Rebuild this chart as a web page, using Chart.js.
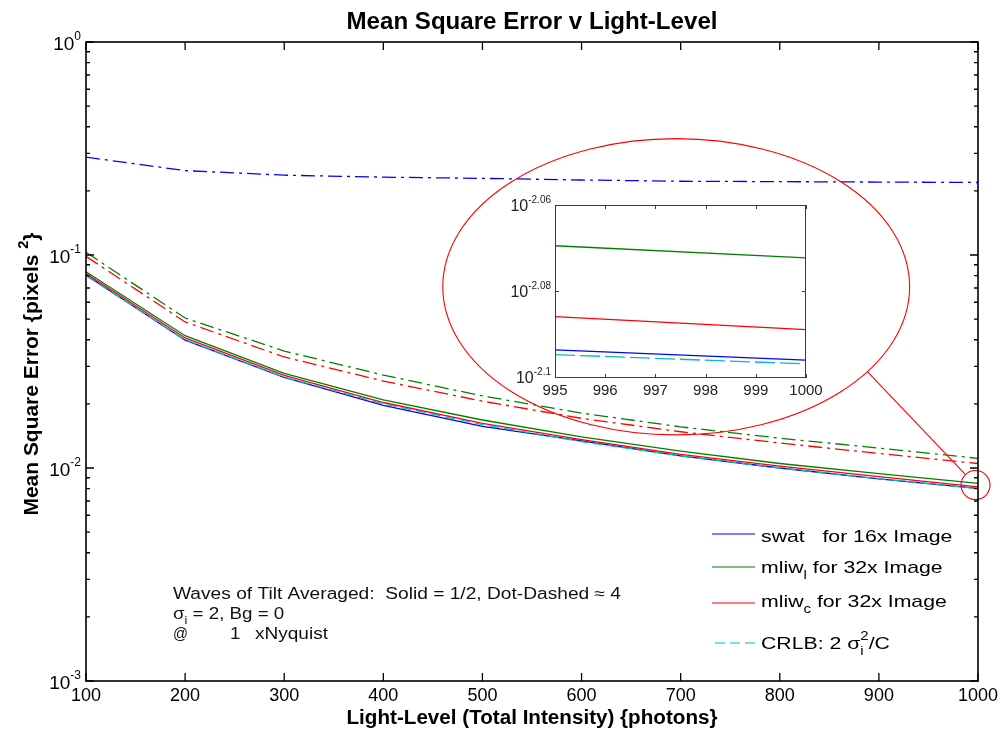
<!DOCTYPE html>
<html>
<head>
<meta charset="utf-8">
<title>Mean Square Error v Light-Level</title>
<script src="https://cdn.jsdelivr.net/npm/chart.js@4.4.1/dist/chart.umd.min.js"></script>
<style>
  html, body { margin: 0; padding: 0; background: #fff; }
  #wrap { position: relative; width: 1007px; height: 736px; }
  #main { position: absolute; left: 0; top: 0; }
  #inset { position: absolute; left: 480px; top: 180px; }
</style>
</head>
<body>
<div id="wrap">
  <canvas id="main" width="1007" height="736"></canvas>
  <canvas id="inset" width="350" height="230"></canvas>
</div>
<script>
const FONT = '"Liberation Sans", Arial, Helvetica, sans-serif';

// light level (total intensity, photons)
const lightLevel = [100, 200, 300, 400, 500, 600, 700, 800, 900, 1000];

// solid: waves of tilt averaged = 1/2
const swatHalf  = [0.0805, 0.0398, 0.0266, 0.0197, 0.0157, 0.0134, 0.0114, 0.0100, 0.0089, 0.00802];
const mliwLHalf = [0.0835, 0.0418, 0.0278, 0.0209, 0.0168, 0.0140, 0.0120, 0.0105, 0.0094, 0.00847];
const mliwCHalf = [0.0818, 0.0408, 0.0272, 0.0203, 0.0162, 0.0136, 0.0116, 0.0102, 0.0091, 0.00815];

// dot-dashed: waves of tilt averaged ~ 4
const swatFour  = [0.288, 0.249, 0.237, 0.232, 0.229, 0.225, 0.222, 0.221, 0.220, 0.219];
const mliwLFour = [0.103, 0.0506, 0.0354, 0.0273, 0.0218, 0.0181, 0.0156, 0.0138, 0.0124, 0.0111];
const mliwCFour = [0.0985, 0.0485, 0.0332, 0.0256, 0.0206, 0.0171, 0.0148, 0.0131, 0.0117, 0.0105];

// CRLB: 2 sigma^2 / C
const crlb = [0.08, 0.04, 0.0267, 0.02, 0.016, 0.0133, 0.0114, 0.01, 0.0089, 0.008];

// close-up near 1000 photons
const zoomLevel = [995, 1000];
const zoomSwat  = [0.008060, 0.008016];
const zoomMliwL = [0.008522, 0.008467];
const zoomMliwC = [0.008205, 0.008148];
const zoomCrlb  = [0.008040, 0.008000];

// ticks
const xTicks = [100, 200, 300, 400, 500, 600, 700, 800, 900, 1000];
const yDecades = [1, 0.1, 0.01, 0.001];
const yDecadeExp = ['0', '-1', '-2', '-3'];
const yMinorMant = [2, 3, 4, 5, 6, 7, 8, 9];
const zoomXTicks = [995, 996, 997, 998, 999, 1000];
const zoomYExp = [-2.06, -2.08, -2.1];
const zoomYLabels = ['-2.06', '-2.08', '-2.1'];

const BLUE = '#0000ff', GREEN = '#008000', RED = '#ff0000', CYAN = '#00bfbf';
const DASH_DOT = [14, 5, 3, 5];
const DASHED = [10, 5];

function series(xs, ys) {
  return xs.map((x, i) => ({ x: x, y: ys[i] }));
}

function line(label, xs, ys, color, dash) {
  return {
    label: label,
    data: series(xs, ys),
    borderColor: color,
    borderDash: dash,
    borderWidth: 1.3,
    pointRadius: 0,
    fill: false,
    tension: 0
  };
}

// text with sub/superscripts; parts are strings or {t, sub, sup, keep}
function drawRich(ctx, parts, x, y, o) {
  const size = o.size, w8 = o.bold ? 'bold ' : '';
  const items = parts.map(p => (typeof p === 'string' ? { t: p } : Object.assign({}, p)));
  let total = 0;
  for (const it of items) {
    it.fs = it.sup || it.sub ? Math.round(size * (o.scriptScale || 0.68)) : size;
    ctx.font = w8 + it.fs + 'px ' + FONT;
    it.w = ctx.measureText(it.t).width;
    if (!it.keep) total += it.w;
  }
  const sx = o.width ? o.width / total : (o.sx || 1);
  const shift = o.align === 'center' ? total / 2 : o.align === 'right' ? total : 0;
  ctx.save();
  ctx.translate(x, y);
  if (o.rotate) ctx.rotate(o.rotate);
  ctx.scale(sx, 1);
  ctx.fillStyle = o.color || '#000';
  ctx.textAlign = 'left';
  ctx.textBaseline = 'alphabetic';
  let cx = -shift;
  for (const it of items) {
    ctx.font = w8 + it.fs + 'px ' + FONT;
    const dy = it.sup ? -size * 0.52 : it.sub ? size * 0.33 : 0;
    ctx.fillText(it.t, cx, dy);
    if (!it.keep) cx += it.w;
  }
  ctx.restore();
  return total * sx;
}

const hiddenAxis = {
  grid: { display: false },
  border: { display: false },
  ticks: { display: false },
  title: { display: false }
};

// ellipse around the close-up, in data units, and the spot it magnifies
const OVAL = { xMin: 460, xMax: 931, yMin: 0.0143, yMax: 0.352 };
const SPOT = { x: 997.5, y: Math.pow(10, -2.08), r: 14.5 };

const legendRows = [
  { color: BLUE, dash: [], lineY: 534, baseY: 542, parts: ['swat   for 16x Image'] },
  { color: GREEN, dash: [], lineY: 567, baseY: 573, parts: ['mliw', { t: 'l', sub: true }, ' for 32x Image'] },
  { color: RED, dash: [], lineY: 603, baseY: 607, parts: ['mliw', { t: 'c', sub: true }, ' for 32x Image'] },
  { color: CYAN, dash: DASHED, lineY: 643, baseY: 649,
    parts: ['CRLB: 2 \u03c3', { t: 'i', sub: true, keep: true }, { t: '2', sup: true }, '/C'] }
];

const mainFrame = {
  id: 'mainFrame',
  beforeDraw(chart) {
    const ctx = chart.ctx;
    ctx.save();
    ctx.fillStyle = '#fff';
    ctx.fillRect(0, 0, chart.width, chart.height);
    ctx.restore();
  },
  afterDatasetsDraw(chart) {
    const { ctx, scales: { x, y } } = chart;
    const xa = x.getPixelForValue(OVAL.xMin), xb = x.getPixelForValue(OVAL.xMax);
    const ya = y.getPixelForValue(OVAL.yMax), yb = y.getPixelForValue(OVAL.yMin);
    const cx = (xa + xb) / 2, cy = (ya + yb) / 2, rx = (xb - xa) / 2, ry = (yb - ya) / 2;
    const sx = x.getPixelForValue(SPOT.x), sy = y.getPixelForValue(SPOT.y);
    ctx.save();
    ctx.strokeStyle = RED;
    ctx.lineWidth = 1.1;
    ctx.beginPath();
    ctx.ellipse(cx, cy, rx, ry, 0, 0, Math.PI * 2);
    ctx.stroke();
    ctx.beginPath();
    ctx.arc(sx, sy, SPOT.r, 0, Math.PI * 2);
    ctx.stroke();
    // connector from the ellipse down to the spot
    const th = 35 * Math.PI / 180;
    const px = cx + rx * Math.cos(th), py = cy + ry * Math.sin(th);
    const d = Math.hypot(px - sx, py - sy);
    ctx.beginPath();
    ctx.moveTo(px, py);
    ctx.lineTo(sx + (px - sx) / d * SPOT.r, sy + (py - sy) / d * SPOT.r);
    ctx.stroke();
    ctx.restore();
  },
  afterDraw(chart) {
    const { ctx, chartArea: a, scales: { x, y } } = chart;
    ctx.save();
    ctx.strokeStyle = '#000';
    ctx.lineWidth = 1.6;
    ctx.strokeRect(a.left, a.top, a.right - a.left, a.bottom - a.top);

    ctx.lineWidth = 1.3;
    ctx.beginPath();
    xTicks.forEach(v => {
      const px = x.getPixelForValue(v);
      ctx.moveTo(px, a.bottom); ctx.lineTo(px, a.bottom - 8);
      ctx.moveTo(px, a.top); ctx.lineTo(px, a.top + 8);
    });
    yDecades.forEach(v => {
      const py = y.getPixelForValue(v);
      ctx.moveTo(a.left, py); ctx.lineTo(a.left + 8, py);
      ctx.moveTo(a.right, py); ctx.lineTo(a.right - 8, py);
      if (v < 1) {
        yMinorMant.forEach(m => {
          const q = y.getPixelForValue(v * m);
          ctx.moveTo(a.left, q); ctx.lineTo(a.left + 4, q);
          ctx.moveTo(a.right, q); ctx.lineTo(a.right - 4, q);
        });
      }
    });
    ctx.stroke();

    // tick labels
    xTicks.forEach(v => {
      drawRich(ctx, [String(v)], x.getPixelForValue(v), a.bottom + 20, { size: 18, align: 'center' });
    });
    yDecades.forEach((v, i) => {
      drawRich(ctx, ['10', { t: yDecadeExp[i], sup: true }], a.left - 5, y.getPixelForValue(v) + 8,
        { size: 19, align: 'right', scriptScale: 0.62 });
    });

    // titles
    const mid = (a.left + a.right) / 2;
    drawRich(ctx, ['Mean Square Error v Light-Level'], mid, 29, { size: 23, bold: true, align: 'center', width: 371 });
    drawRich(ctx, ['Light-Level (Total Intensity) {photons}'], mid, 724, { size: 20, bold: true, align: 'center', width: 371 });
    drawRich(ctx, ['Mean Square Error {pixels ', { t: '2', sup: true }, '}'], 38, 374,
      { size: 20, bold: true, align: 'center', rotate: -Math.PI / 2, width: 283 });

    // legend
    legendRows.forEach(r => {
      ctx.strokeStyle = r.color;
      ctx.lineWidth = 1.2;
      ctx.setLineDash(r.dash);
      ctx.beginPath();
      ctx.moveTo(r.dash.length ? 715 : 712, r.lineY);
      ctx.lineTo(755, r.lineY);
      ctx.stroke();
      ctx.setLineDash([]);
      drawRich(ctx, r.parts, 761, r.baseY, { size: 17, sx: 1.25 });
    });

    // run settings
    drawRich(ctx, ['Waves of Tilt Averaged:  Solid = 1/2, Dot-Dashed \u2248 4'], 173, 599,
      { size: 16, width: 448, color: '#111' });
    drawRich(ctx, ['\u03c3', { t: 'i', sub: true }, ' = 2, Bg = 0'], 173, 619, { size: 16, sx: 1.17, color: '#111' });
    drawRich(ctx, ['@'], 173, 639, { size: 17, width: 15, color: '#111' });
    drawRich(ctx, ['1'], 230, 639, { size: 16, sx: 1.17, color: '#111' });
    drawRich(ctx, ['xNyquist'], 255, 639, { size: 16, width: 73, color: '#111' });
    ctx.restore();
  }
};

new Chart(document.getElementById('main'), {
  type: 'line',
  data: {
    datasets: [
      line('CRLB', lightLevel, crlb, CYAN, DASHED),
      line('mliw c, 1/2', lightLevel, mliwCHalf, RED, []),
      line('mliw l, 1/2', lightLevel, mliwLHalf, GREEN, []),
      line('swat, 1/2', lightLevel, swatHalf, BLUE, []),
      line('mliw c, 4', lightLevel, mliwCFour, RED, DASH_DOT),
      line('mliw l, 4', lightLevel, mliwLFour, GREEN, DASH_DOT),
      line('swat, 4', lightLevel, swatFour, BLUE, DASH_DOT)
    ]
  },
  options: {
    responsive: false,
    animation: false,
    devicePixelRatio: 1,
    events: [],
    layout: { padding: { left: 86, right: 29, top: 42, bottom: 55 } },
    plugins: { legend: { display: false }, tooltip: { enabled: false }, title: { display: false } },
    scales: {
      x: Object.assign({ type: 'linear', min: 100, max: 1000, afterFit: s => { s.height = 0; } }, hiddenAxis),
      y: Object.assign({ type: 'logarithmic', min: 0.001, max: 1, afterFit: s => { s.width = 0; } }, hiddenAxis)
    }
  },
  plugins: [mainFrame]
});

const insetFrame = {
  id: 'insetFrame',
  afterDraw(chart) {
    const { ctx, chartArea: a, scales: { x, y } } = chart;
    ctx.save();
    ctx.strokeStyle = '#3a3a3a';
    ctx.lineWidth = 1;
    ctx.strokeRect(a.left + 0.5, a.top + 0.5, a.right - a.left - 1, a.bottom - a.top - 1);
    ctx.beginPath();
    zoomXTicks.forEach(v => {
      const px = Math.round(x.getPixelForValue(v)) + 0.5;
      ctx.moveTo(px, a.bottom); ctx.lineTo(px, a.bottom - 4);
      ctx.moveTo(px, a.top); ctx.lineTo(px, a.top + 4);
    });
    zoomYExp.forEach(e => {
      const py = Math.round(y.getPixelForValue(Math.pow(10, e))) + 0.5;
      ctx.moveTo(a.left, py); ctx.lineTo(a.left + 4, py);
      ctx.moveTo(a.right, py); ctx.lineTo(a.right - 4, py);
    });
    ctx.stroke();
    zoomXTicks.forEach(v => {
      drawRich(ctx, [String(v)], x.getPixelForValue(v), a.bottom + 17, { size: 15, align: 'center', color: '#222' });
    });
    zoomYExp.forEach((e, i) => {
      drawRich(ctx, ['10', { t: zoomYLabels[i], sup: true }], a.left - 4, y.getPixelForValue(Math.pow(10, e)) + 6,
        { size: 16, align: 'right', color: '#222', scriptScale: 0.62 });
    });
    ctx.restore();
  }
};

new Chart(document.getElementById('inset'), {
  type: 'line',
  data: {
    datasets: [
      line('CRLB', zoomLevel, zoomCrlb, CYAN, [20, 5]),
      line('mliw c', zoomLevel, zoomMliwC, RED, []),
      line('mliw l', zoomLevel, zoomMliwL, GREEN, []),
      line('swat', zoomLevel, zoomSwat, BLUE, [])
    ]
  },
  options: {
    responsive: false,
    animation: false,
    devicePixelRatio: 1,
    events: [],
    layout: { padding: { left: 75, right: 24, top: 25, bottom: 32 } },
    plugins: { legend: { display: false }, tooltip: { enabled: false }, title: { display: false } },
    scales: {
      x: Object.assign({ type: 'linear', min: 995, max: 1000, afterFit: s => { s.height = 0; } }, hiddenAxis),
      y: Object.assign({ type: 'logarithmic', min: Math.pow(10, -2.1), max: Math.pow(10, -2.06),
        afterFit: s => { s.width = 0; } }, hiddenAxis)
    }
  },
  plugins: [insetFrame]
});
</script>
</body>
</html>
